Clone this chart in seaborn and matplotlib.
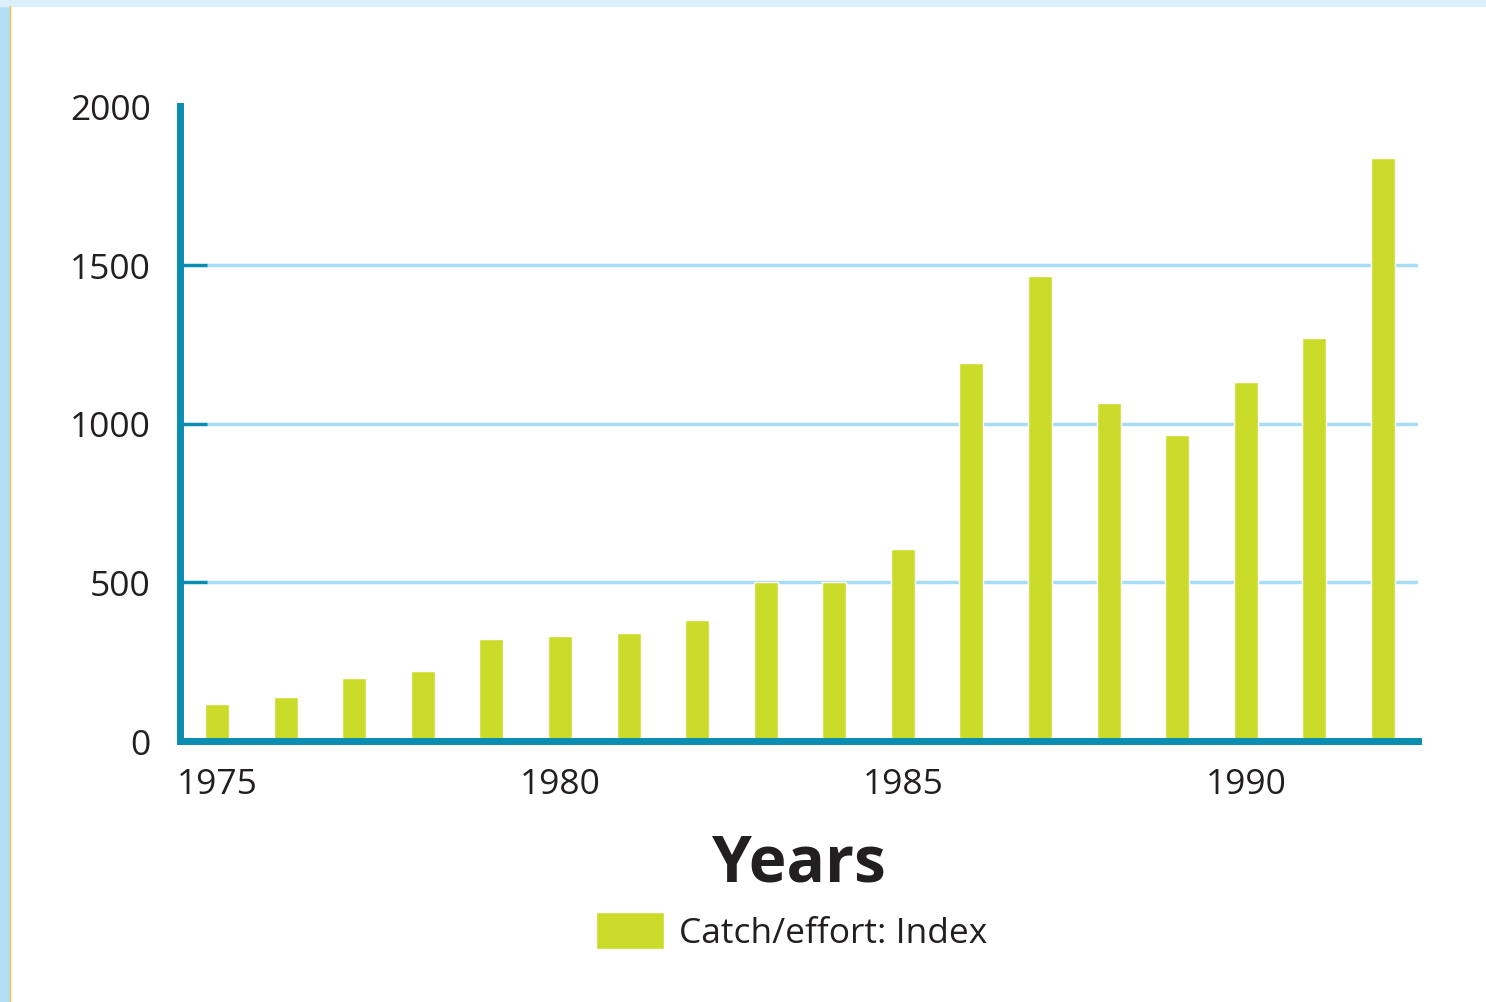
import pandas as pd
import matplotlib.pyplot as plt
import seaborn as sns
from matplotlib.patches import Rectangle

# values
years = list(range(1975, 1993))
catch_effort = [115, 140, 200, 220, 320, 330, 340, 380, 500, 500,
                605, 1190, 1465, 1065, 965, 1130, 1270, 1835]
y_ticks = [0, 500, 1000, 1500, 2000]
x_ticks = [1975, 1980, 1985, 1990]

df = pd.DataFrame({"Year": years, "Index": catch_effort})

sns.set_style("white")
plt.rcParams['font.family'] = ['Open Sans', 'DejaVu Sans']

bar_col = "#cbdb29"
axis_col = "#0a8db0"
grid_col = "#a6ddf4"
text_col = "#231f20"

fig = plt.figure(figsize=(14.86, 10.03), dpi=100)
fig.patch.set_facecolor("white")

# light blue frame round the panel
fig.add_artist(Rectangle((0, 0), 9/1486, 1, transform=fig.transFigure,
                         color="#b3def6", zorder=0))
fig.add_artist(Rectangle((0, 1 - 7/1003), 1, 7/1003, transform=fig.transFigure,
                         color="#dcf0fb", zorder=0))
fig.add_artist(plt.Line2D([9.5/1486, 9.5/1486], [0, 1 - 7/1003], transform=fig.transFigure,
                          color="#f5c242", lw=1))

ax = fig.add_axes([180/1486, 1 - 742/1003, (1418 - 180)/1486, (742 - 107)/1003])

sns.barplot(data=df, x="Year", y="Index", native_scale=True, width=0.35,
            color=bar_col, saturation=1, ax=ax, zorder=3, label="Catch/effort: Index")

ax.set_xlim(1974.46, 1992.51)
ax.set_ylim(0, 2000)

# grid lines start a bit right of the axis
for v in y_ticks[1:-1]:
    ax.plot([0.022, 1], [v, v], transform=ax.get_yaxis_transform(),
            color=grid_col, lw=2.5, zorder=1)
    ax.plot([0, 0.022], [v, v], transform=ax.get_yaxis_transform(),
            color=axis_col, lw=2.5, zorder=2, solid_capstyle="butt")

for s in ["top", "right"]:
    ax.spines[s].set_visible(False)
for s in ["left", "bottom"]:
    ax.spines[s].set_color(axis_col)
    ax.spines[s].set_linewidth(5)
    ax.spines[s].set_zorder(4)

ax.set_yticks(y_ticks)
ax.set_yticklabels([str(v) for v in y_ticks])
ax.set_xticks(x_ticks)
ax.set_xticklabels([str(v) for v in x_ticks])
ax.tick_params(axis="y", length=0, pad=21, labelsize=25.5, labelcolor=text_col)
ax.tick_params(axis="x", length=12, width=3, color=axis_col, direction="out",
               pad=7, labelsize=25.5, labelcolor=text_col)

ax.set_ylabel("")
ax.set_xlabel("Years", fontsize=46, fontweight="bold", color=text_col, labelpad=22)

ax.legend(loc="upper center", bbox_to_anchor=(0.494, -0.219), frameon=False,
          fontsize=25.5, handlelength=1.92, handleheight=1.22, handletextpad=0.4,
          labelcolor=text_col)

fig.savefig("out.png", dpi=100, facecolor=fig.get_facecolor())
